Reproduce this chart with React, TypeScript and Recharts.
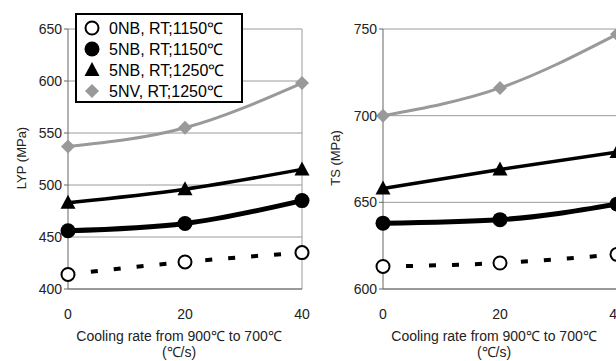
import React from "react";
import { LineChart, Line, XAxis, YAxis, CartesianGrid, ReferenceLine } from "recharts";

// cooling rate (°C/s)
const coolingRates = [0, 20, 40];

// lower yield point, MPa
const lyp0NB1150 = [414, 426, 435];
const lyp5NB1150 = [456, 463, 485];
const lyp5NB1250 = [483, 496, 515];
const lyp5NV1250 = [537, 555, 598];

// tensile strength, MPa
const ts0NB1150 = [613, 615, 620];
const ts5NB1150 = [638, 640, 649];
const ts5NB1250 = [658, 669, 679];
const ts5NV1250 = [700, 716, 747];

const lypTicks = [400, 450, 500, 550, 600, 650];
const tsTicks = [600, 650, 700, 750];
const rateTicks = [0, 20, 40];

const seriesNames = ["0NB, RT;1150℃", "5NB, RT;1150℃", "5NB, RT;1250℃", "5NV, RT;1250℃"];

const FONT = "'Liberation Sans', Arial, sans-serif";
const GRID = "#9a9a9a";
const GREY_SERIES = "#999999";

const buildRows = (a: number[], b: number[], c: number[], d: number[]) =>
  coolingRates.map((rate, i) => ({ rate, s0: a[i], s1: b[i], s2: c[i], s3: d[i] }));

const lypData = buildRows(lyp0NB1150, lyp5NB1150, lyp5NB1250, lyp5NV1250);
const tsData = buildRows(ts0NB1150, ts5NB1150, ts5NB1250, ts5NV1250);

//marker shapes
const OpenCircle = ({ cx, cy }: any) => (
  <circle key={`o-${cx}`} cx={cx} cy={cy} r={6.5} fill="#fff" stroke="#000" strokeWidth={2} />
);
const FilledCircle = ({ cx, cy }: any) => <circle key={`f-${cx}`} cx={cx} cy={cy} r={7.5} fill="#000" />;
const Triangle = ({ cx, cy }: any) => (
  <polygon key={`t-${cx}`} points={`${cx},${cy - 8} ${cx + 7.5},${cy + 6} ${cx - 7.5},${cy + 6}`} fill="#000" />
);
const Diamond = ({ cx, cy }: any) => (
  <polygon key={`d-${cx}`} points={`${cx},${cy - 7} ${cx + 7},${cy} ${cx},${cy + 7} ${cx - 7},${cy}`} fill={GREY_SERIES} />
);

const tickStyle = { fill: "#222", fontSize: 14, fontFamily: FONT };

interface PanelProps {
  data: any[];
  domain: [number, number];
  ticks: number[];
  yWidth: number;
}

const Panel = ({ data, domain, ticks, yWidth }: PanelProps) => (
  <LineChart width={yWidth + 234 + 20} height={330} data={data} margin={{ top: 29, right: 20, left: 0, bottom: 0 }}>
    <CartesianGrid horizontal vertical={false} stroke={GRID} strokeWidth={1} />
    <ReferenceLine x={40} stroke={GRID} strokeWidth={1} />
    <XAxis
      dataKey="rate"
      type="number"
      domain={[0, 40]}
      ticks={rateTicks}
      height={41}
      stroke="#666"
      tickLine={false}
      tick={tickStyle}
      tickMargin={14}
    />
    <YAxis
      type="number"
      domain={domain}
      ticks={ticks}
      width={yWidth}
      stroke="#666"
      tickSize={4}
      tick={tickStyle}
      interval={0}
    />
    <Line dataKey="s0" type="monotone" stroke="#000" strokeWidth={4} strokeDasharray="7 16" dot={OpenCircle} isAnimationActive={false} />
    <Line dataKey="s1" type="monotone" stroke="#000" strokeWidth={5} dot={FilledCircle} isAnimationActive={false} />
    <Line dataKey="s2" type="monotone" stroke="#000" strokeWidth={3.5} dot={Triangle} isAnimationActive={false} />
    <Line dataKey="s3" type="monotone" stroke={GREY_SERIES} strokeWidth={3} dot={Diamond} isAnimationActive={false} />
  </LineChart>
);

const legendIcons = [
  <circle cx={9} cy={9} r={6.5} fill="#fff" stroke="#000" strokeWidth={2} />,
  <circle cx={9} cy={9} r={7.5} fill="#000" />,
  <polygon points="9,1 16.5,15 1.5,15" fill="#000" />,
  <polygon points="9,2 16,9 9,16 2,9" fill={GREY_SERIES} />,
];

const XTitle = ({ left }: { left: number }) => (
  <div
    style={{
      position: "absolute",
      left,
      top: 328,
      width: 250,
      textAlign: "center",
      fontFamily: FONT,
      fontSize: 14,
      lineHeight: "16px",
      color: "#222",
      whiteSpace: "nowrap",
    }}
  >
    Cooling rate from 900℃ to 700℃
    <br />
    (℃/s)
  </div>
);

const YTitle = ({ left, top, text }: { left: number; top: number; text: string }) => (
  <div
    style={{
      position: "absolute",
      left,
      top,
      width: 100,
      textAlign: "center",
      transform: "translate(-50%, -50%) rotate(-90deg)",
      fontFamily: FONT,
      fontSize: 13,
      color: "#222",
      whiteSpace: "nowrap",
    }}
  >
    {text}
  </div>
);

export default function App() {
  return (
    <div style={{ position: "absolute", left: 0, top: 0, width: 616, height: 361, overflow: "hidden", background: "#fff" }}>
      <div style={{ position: "absolute", left: 0, top: 0 }}>
        <Panel data={lypData} domain={[400, 650]} ticks={lypTicks} yWidth={68} />
      </div>
      <div style={{ position: "absolute", left: 310, top: 0 }}>
        <Panel data={tsData} domain={[600, 750]} ticks={tsTicks} yWidth={73} />
      </div>

      <YTitle left={21} top={158} text="LYP (MPa)" />
      <YTitle left={335} top={158} text="TS (MPa)" />
      <XTitle left={54} />
      <XTitle left={369} />

      {/* legend */}
      <div
        style={{
          position: "absolute",
          left: 75,
          top: 13,
          width: 168,
          height: 90,
          border: "2px solid #000",
          background: "#fff",
          padding: "2px 0 0 6px",
          boxSizing: "border-box",
          fontFamily: FONT,
          fontSize: 16,
        }}
      >
        {seriesNames.map((name, i) => (
          <div key={name} style={{ display: "flex", alignItems: "center", height: 21 }}>
            <svg width={18} height={18} style={{ marginRight: 8 }}>
              {legendIcons[i]}
            </svg>
            <span>{name}</span>
          </div>
        ))}
      </div>
    </div>
  );
}
